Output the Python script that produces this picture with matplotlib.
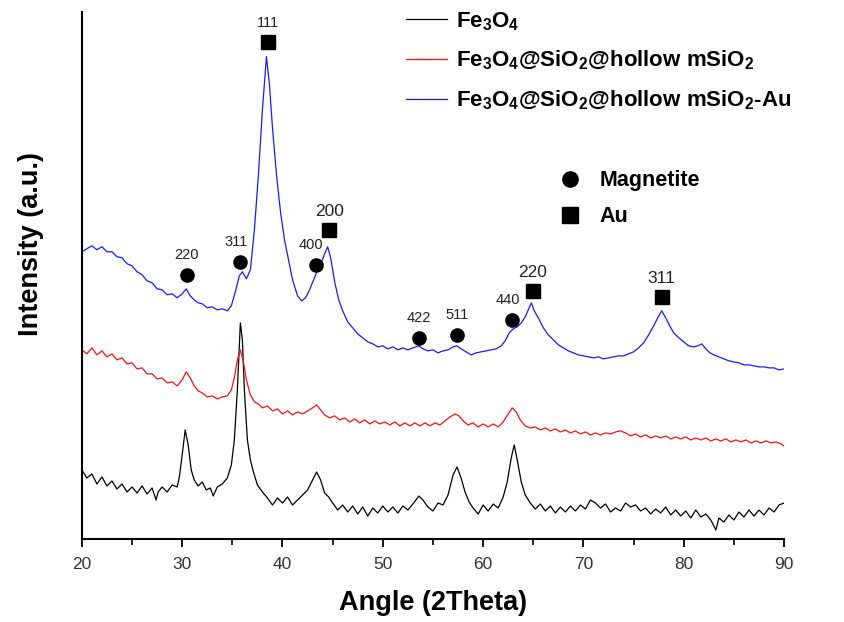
import numpy as np
import matplotlib.pyplot as plt
from matplotlib.lines import Line2D

plt.rcParams['font.family'] = ['Liberation Sans', 'DejaVu Sans']
plt.rcParams['mathtext.default'] = 'regular'

# XRD patterns, intensity in arbitrary units (curves are vertically offset)
fe3o4_x = [20.0, 20.5, 21.0, 21.5, 22.0, 22.5, 23.0, 23.5, 24.0, 24.5, 25.0, 25.5, 26.0, 26.5, 27.0, 27.4, 27.6,
           28.0, 28.5, 29.0, 29.5, 29.7, 30.0, 30.3, 30.6, 30.9, 31.2, 31.6, 32.0, 32.4, 32.8, 33.1, 33.5, 34.0,
           34.5, 34.9, 35.2, 35.5, 35.8, 36.0, 36.2, 36.5, 36.8, 37.1, 37.5, 38.0, 38.5, 39.0, 39.5, 40.0, 40.5,
           41.0, 41.5, 42.0, 42.5, 43.0, 43.4, 43.8, 44.2, 44.6, 45.0, 45.5, 46.0, 46.5, 47.0, 47.5, 48.0, 48.5,
           49.0, 49.5, 50.0, 50.5, 51.0, 51.5, 52.0, 52.5, 53.0, 53.6, 54.0, 54.5, 55.0, 55.5, 56.0, 56.5, 57.0,
           57.4, 57.8, 58.2, 58.6, 59.0, 59.5, 60.0, 60.5, 61.0, 61.5, 62.0, 62.4, 62.8, 63.1, 63.4, 63.8, 64.2,
           64.7, 65.2, 65.7, 66.2, 66.7, 67.2, 67.7, 68.2, 68.7, 69.2, 69.7, 70.2, 70.7, 71.2, 71.7, 72.2, 72.7,
           73.2, 73.7, 74.2, 74.7, 75.2, 75.7, 76.2, 76.7, 77.2, 77.7, 78.2, 78.7, 79.2, 79.7, 80.2, 80.7, 81.2,
           81.7, 82.2, 82.7, 83.2, 83.5, 84.0, 84.5, 85.0, 85.5, 86.0, 86.5, 87.0, 87.5, 88.0, 88.5, 89.0, 89.5, 90.0]
fe3o4_y = [69, 61, 65, 55, 62, 53, 58, 50, 55, 47, 52, 46, 53, 45, 51, 39, 47,
           52, 47, 54, 52, 61, 84, 109, 94, 69, 59, 53, 57, 49, 51, 43, 52, 55,
           61, 74, 99, 149, 216, 199, 149, 99, 79, 67, 54, 47, 41, 34, 41, 36, 42,
           34, 39, 44, 49, 59, 67, 59, 46, 42, 36, 29, 34, 27, 33, 25, 32, 23,
           31, 26, 33, 27, 32, 26, 33, 29, 35, 43, 39, 32, 28, 36, 34, 44, 64,
           72, 61, 47, 37, 31, 25, 34, 28, 35, 31, 42, 57, 81, 94, 79, 57, 44,
           36, 30, 35, 28, 33, 26, 32, 27, 33, 28, 34, 30, 39, 36, 31, 35, 27,
           31, 28, 36, 32, 34, 28, 31, 25, 30, 26, 32, 24, 29, 23, 28, 21, 29,
           22, 25, 19, 9, 21, 17, 24, 19, 27, 22, 29, 23, 29, 24, 31, 27, 34, 36]

hollow_x = [20.0, 20.5, 21.0, 21.5, 22.0, 22.5, 23.0, 23.5, 24.0, 24.5, 25.0, 25.5, 26.0, 26.5, 27.0, 27.5, 28.0,
            28.5, 29.0, 29.5, 30.0, 30.4, 30.8, 31.2, 31.6, 32.0, 32.5, 33.0, 33.5, 34.0, 34.5, 34.9, 35.2, 35.5,
            35.8, 36.1, 36.4, 36.8, 37.2, 37.6, 38.0, 38.5, 39.0, 39.5, 40.0, 40.5, 41.0, 41.5, 42.0, 42.5, 43.0,
            43.4, 43.8, 44.2, 44.7, 45.2, 45.7, 46.2, 46.7, 47.2, 47.7, 48.2, 48.7, 49.2, 49.7, 50.2, 50.7, 51.2,
            51.7, 52.2, 52.7, 53.2, 53.7, 54.2, 54.7, 55.2, 55.7, 56.2, 56.7, 57.2, 57.6, 58.0, 58.5, 59.0, 59.5,
            60.0, 60.5, 61.0, 61.5, 62.0, 62.5, 62.9, 63.3, 63.7, 64.2, 64.7, 65.2, 65.7, 66.2, 66.7, 67.2, 67.7,
            68.2, 68.7, 69.2, 69.7, 70.2, 70.7, 71.2, 71.7, 72.2, 72.7, 73.2, 73.7, 74.2, 74.7, 75.2, 75.7, 76.2,
            76.7, 77.2, 77.7, 78.2, 78.7, 79.2, 79.7, 80.2, 80.7, 81.2, 81.7, 82.2, 82.7, 83.2, 83.7, 84.2, 84.7,
            85.2, 85.7, 86.2, 86.7, 87.2, 87.7, 88.2, 88.7, 89.2, 89.7, 90.0]
hollow_y = [189, 185, 191, 184, 188, 182, 185, 179, 181, 175, 176, 170, 171, 165, 165, 160, 161,
            156, 157, 153, 159, 167, 161, 153, 148, 146, 142, 143, 140, 142, 143, 149, 161, 179,
            189, 177, 159, 144, 137, 135, 131, 133, 128, 130, 125, 128, 124, 127, 125, 128, 131,
            134, 129, 124, 121, 123, 119, 121, 117, 120, 116, 119, 115, 118, 115, 117, 114, 117,
            113, 116, 113, 116, 113, 116, 113, 116, 114, 118, 122, 125, 123, 118, 114, 116, 112,
            115, 112, 115, 112, 117, 125, 131, 127, 119, 113, 111, 112, 109, 111, 108, 110, 107,
            109, 106, 108, 105, 107, 104, 106, 104, 106, 105, 107, 108, 106, 103, 105, 102, 104,
            101, 103, 101, 103, 100, 102, 100, 102, 99, 101, 99, 101, 98, 100, 98, 100, 97,
            99, 97, 99, 96, 98, 96, 98, 96, 97, 95, 93]

au_x = [20.0, 20.5, 21.0, 21.5, 22.0, 22.5, 23.0, 23.5, 24.0, 24.5, 25.0, 25.5, 26.0, 26.5, 27.0, 27.5, 28.0,
        28.5, 29.0, 29.5, 30.0, 30.4, 30.8, 31.2, 31.6, 32.0, 32.5, 33.0, 33.5, 34.0, 34.5, 34.9, 35.3, 35.7,
        36.0, 36.4, 36.8, 37.2, 37.6, 38.0, 38.4, 38.7, 39.0, 39.4, 39.8, 40.2, 40.6, 41.0, 41.5, 41.9, 42.3,
        42.7, 43.1, 43.5, 43.9, 44.2, 44.5, 44.8, 45.2, 45.6, 46.0, 46.5, 47.0, 47.5, 48.0, 48.5, 49.0, 49.5,
        50.0, 50.5, 51.0, 51.5, 52.0, 52.5, 53.0, 53.6, 54.0, 54.5, 55.0, 55.5, 56.0, 56.5, 57.0, 57.4, 57.8,
        58.3, 58.8, 59.3, 59.8, 60.3, 60.8, 61.3, 61.8, 62.2, 62.6, 63.0, 63.4, 63.8, 64.2, 64.5, 64.8, 65.1,
        65.5, 66.0, 66.5, 67.0, 67.5, 68.0, 68.5, 69.0, 69.5, 70.0, 70.5, 71.0, 71.5, 72.0, 72.5, 73.0, 73.5,
        74.0, 74.5, 75.0, 75.5, 76.0, 76.5, 77.0, 77.4, 77.8, 78.2, 78.6, 79.0, 79.5, 80.0, 80.5, 81.0, 81.4,
        81.8, 82.2, 82.6, 83.0, 83.5, 84.0, 84.5, 85.0, 85.5, 86.0, 86.5, 87.0, 87.5, 88.0, 88.5, 89.0, 89.5, 90.0]
au_y = [287, 290, 293, 289, 292, 287, 287, 282, 281, 275, 273, 267, 264, 258, 256, 250, 249,
        244, 245, 241, 245, 250, 243, 239, 236, 235, 231, 232, 229, 230, 228, 233, 247, 263,
        267, 260, 269, 309, 364, 429, 482, 454, 411, 364, 327, 299, 279, 259, 243, 238, 241,
        249, 259, 269, 277, 285, 292, 281, 257, 239, 228, 217, 211, 205, 201, 197, 195, 192,
        193, 190, 192, 189, 191, 189, 191, 193, 190, 188, 189, 186, 188, 189, 192, 193, 190,
        187, 184, 186, 187, 188, 189, 190, 193, 198, 206, 210, 212, 216, 222, 229, 236, 228,
        221, 211, 204, 199, 194, 191, 188, 186, 184, 183, 182, 181, 182, 180, 181, 182, 183,
        183, 185, 187, 191, 196, 204, 213, 221, 228, 221, 213, 206, 201, 197, 193, 192, 193,
        195, 190, 186, 184, 182, 180, 178, 177, 176, 174, 174, 173, 172, 172, 171, 171, 169, 170]

# peak assignments
mag_pos = [30.45, 35.75, 43.3, 53.6, 57.4, 62.85]
mag_h = [264, 277, 274, 201, 204, 219]
mag_lab = ['220', '311', '400', '422', '511', '440']
au_pos = [38.55, 44.65, 64.95, 77.8]
au_h = [497, 309, 248, 242]
au_lab = ['111', '200', '220', '311']

fig = plt.figure(figsize=(8.44, 6.22), dpi=100)
ax = fig.add_axes([0.097, 0.1334, 0.832, 0.848])

l1, = ax.plot(fe3o4_x, fe3o4_y, color='black', lw=0.9)
l2, = ax.plot(hollow_x, hollow_y, color='#ff1010', lw=0.9)
l3, = ax.plot(au_x, au_y, color='#1a1aff', lw=0.9)

ax.plot(mag_pos, mag_h, 'o', color='black', ms=9.5, ls='none')
ax.plot(au_pos, au_h, 's', color='black', ms=9.5, ls='none')
for x, h, t in zip(mag_pos, mag_h, mag_lab):
    dx = -3 if t in ('311', '400', '440') else 0
    ax.annotate(t, (x, h), xytext=(dx, 9), textcoords='offset points',
                ha='center', va='bottom', fontsize=10.5, color='#222222')
for x, h, t in zip(au_pos, au_h, au_lab):
    fs = 10.5 if t == '111' else 12.5
    ax.annotate(t, (x, h), xytext=(0, 8), textcoords='offset points',
                ha='center', va='bottom', fontsize=fs, color='#222222')

ax.set_xlim(20, 90)
ax.set_ylim(0, 527)
ax.set_xticks(np.arange(20, 91, 10))
ax.set_xticks(np.arange(25, 90, 10), minor=True)
ax.set_yticks([])
for s in ('top', 'right'):
    ax.spines[s].set_visible(False)
ax.spines['left'].set_linewidth(1.5)
ax.spines['bottom'].set_linewidth(1.5)
ax.tick_params(axis='x', which='major', direction='out', length=6, width=1.3,
               labelsize=12.5, labelcolor='#333333', pad=7)
ax.tick_params(axis='x', which='minor', direction='out', length=4, width=1.2)

ax.set_xlabel('Angle (2Theta)', fontsize=19.5, fontweight='bold', labelpad=13)
ax.set_ylabel('Intensity (a.u.)', fontsize=19.5, fontweight='bold')
ax.yaxis.set_label_coords(-0.054, 0.56)

leg1 = ax.legend([l1, l2, l3],
                 ['Fe$_3$O$_4$', 'Fe$_3$O$_4$@SiO$_2$@hollow mSiO$_2$',
                  'Fe$_3$O$_4$@SiO$_2$@hollow mSiO$_2$-Au'],
                 loc='upper left', bbox_to_anchor=(0.4615, 1.0025), frameon=False,
                 prop={'weight': 'bold', 'size': 16}, handlelength=1.85,
                 handletextpad=0.4, labelspacing=0.74, borderpad=0, borderaxespad=0)
ax.add_artist(leg1)
mk = [Line2D([], [], marker='o', color='black', ls='none', ms=11),
      Line2D([], [], marker='s', color='black', ls='none', ms=11)]
ax.legend(mk, ['Magnetite', 'Au'], loc='upper left', bbox_to_anchor=(0.6795, 0.699),
          frameon=False, prop={'weight': 'bold', 'size': 15.5}, handlelength=1.0,
          handletextpad=0.9, labelspacing=0.69, borderpad=0, borderaxespad=0)

fig.savefig('out.png', dpi=100)
